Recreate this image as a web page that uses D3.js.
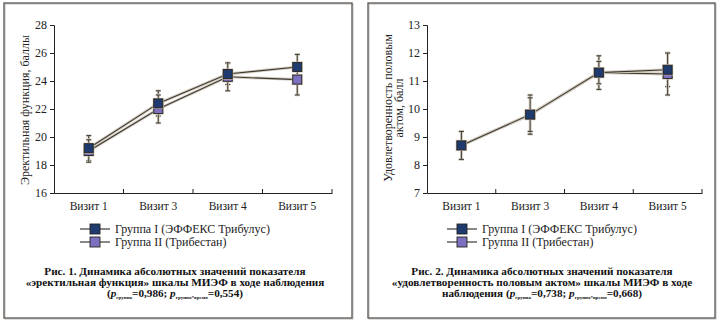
<!DOCTYPE html>
<html>
<head>
<meta charset="utf-8">
<script src="https://cdnjs.cloudflare.com/ajax/libs/d3/7.8.5/d3.min.js"></script>
<style>
  body { margin: 0; background: #fff; }
  svg { font-family: "Liberation Serif", "Times New Roman", serif; }
  .tick text { font-size: 12px; fill: #222; }
  .caption { font-size: 11.2px; font-weight: bold; fill: #111; }
</style>
</head>
<body>
<svg id="chart" width="720" height="321"></svg>
<script>
// data
const visits = ['Визит 1', 'Визит 3', 'Визит 4', 'Визит 5'];
const groupNames = ['Группа I (ЭФФЕКС Трибулус)', 'Группа II (Трибестан)'];

// Рис. 1 — эректильная функция
const erectI = [19.2, 22.4, 24.5, 25.0];
const erectIErr = [0.9, 0.9, 0.75, 0.9];
const erectII = [19.0, 22.0, 24.3, 24.1];
const erectIIErr = [0.8, 1.0, 1.0, 1.1];
const erectTicks = [16, 18, 20, 22, 24, 26, 28];

// Рис. 2 — удовлетворенность половым актом
const satisI = [8.7, 9.8, 11.3, 11.4];
const satisIErr = [0.5, 0.7, 0.6, 0.6];
const satisII = [8.7, 9.8, 11.3, 11.25];
const satisIIErr = [0.5, 0.6, 0.4, 0.75];
const satisTicks = [7, 8, 9, 10, 11, 12, 13];

const colors = ['#1e3a6e', '#7e70c0'];
const serif = '"Liberation Serif", "Times New Roman", serif';

let svg = d3.select('#chart');

function drawPanel(p) {
    let g = svg.append('g');

    // frame
    g.append('rect')
        .attr('x', p.box[0] + 1).attr('y', p.box[1] + 1)
        .attr('width', p.box[2] - p.box[0]).attr('height', p.box[3] - p.box[1])
        .attr('fill', 'none').attr('stroke', '#bbb').attr('stroke-width', 1);
    g.append('rect')
        .attr('x', p.box[0]).attr('y', p.box[1])
        .attr('width', p.box[2] - p.box[0]).attr('height', p.box[3] - p.box[1])
        .attr('fill', 'none').attr('stroke', '#5a5550').attr('stroke-width', 1.3);

    let x = d3.scaleBand().domain(visits).range([p.left, p.right]);
    let y = d3.scaleLinear().domain(p.domain).range([193, 25]);

    // y axis
    let yAxis = g.append('g')
        .attr('transform', `translate(${p.left},0)`)
        .call(d3.axisLeft(y).tickValues(p.ticks).tickFormat(d3.format('d')).tickSize(4).tickPadding(3));
    yAxis.attr('font-family', serif);
    yAxis.select('.domain').attr('stroke', '#222');
    yAxis.selectAll('.tick line').attr('stroke', '#222');

    // x axis, ticks point inward at band edges
    let xAxis = g.append('g')
        .attr('transform', `translate(0,193)`)
        .call(d3.axisBottom(x).tickSize(0).tickPadding(9));
    xAxis.attr('font-family', serif);
    xAxis.select('.domain').attr('stroke', '#222');
    xAxis.selectAll('.tick text').style('font-size', '11.5px');
    xAxis.selectAll('.edge')
        .data(visits)
        .enter().append('line')
        .attr('x1', d => x(d) + x.bandwidth()).attr('x2', d => x(d) + x.bandwidth())
        .attr('y1', 0).attr('y2', -4)
        .attr('stroke', '#222');

    // y label
    let lab = g.append('text')
        .attr('transform', `translate(${p.labelX},${p.labelY}) rotate(-90)`)
        .attr('text-anchor', 'middle')
        .style('font-size', '12px')
        .attr('fill', '#222');
    p.label.forEach((t, i) => {
        lab.append('tspan').attr('x', 0).attr('dy', i == 0 ? 0 : 11).text(t);
    });

    let series = [
        { vals: p.s1, err: p.e1, color: colors[0] },
        { vals: p.s2, err: p.e2, color: colors[1] }
    ];
    let cx = d => x(d) + x.bandwidth() / 2;
    let line = d3.line().x(d => cx(d.v)).y(d => y(d.y));

    // lines (group II underneath)
    series.slice().reverse().forEach(s => {
        let pts = visits.map((v, i) => ({ v: v, y: s.vals[i] }));
        g.append('path').datum(pts).attr('d', line)
            .attr('fill', 'none').attr('stroke', '#d6cfc2').attr('stroke-width', 3);
        g.append('path').datum(pts).attr('d', line)
            .attr('fill', 'none').attr('stroke', '#3c3832').attr('stroke-width', 1.1);
    });

    // error bars
    series.forEach(s => {
        visits.forEach((v, i) => {
            let hi = y(s.vals[i] + s.err[i]), lo = y(s.vals[i] - s.err[i]);
            let xx = cx(v);
            [['#d6cfc2', 2.6], ['#3c3832', 1]].forEach(st => {
                g.append('line').attr('x1', xx).attr('x2', xx).attr('y1', hi).attr('y2', lo)
                    .attr('stroke', st[0]).attr('stroke-width', st[1]);
                [hi, lo].forEach(yy => {
                    g.append('line').attr('x1', xx - 2.5).attr('x2', xx + 2.5)
                        .attr('y1', yy).attr('y2', yy)
                        .attr('stroke', st[0]).attr('stroke-width', st[1]);
                });
            });
        });
    });

    // markers
    series.slice().reverse().forEach(s => {
        visits.forEach((v, i) => {
            g.append('rect')
                .attr('x', cx(v) - 5.5).attr('y', y(s.vals[i]) - 5.5)
                .attr('width', 11).attr('height', 11)
                .attr('fill', '#c9c0b0');
            g.append('rect')
                .attr('x', cx(v) - 4.5).attr('y', y(s.vals[i]) - 4.5)
                .attr('width', 9).attr('height', 9)
                .attr('fill', s.color).attr('stroke', '#26241f').attr('stroke-width', 0.9);
        });
    });

    // legend
    groupNames.forEach((name, i) => {
        let ly = 229 + i * 13;
        g.append('line').attr('x1', p.legX).attr('x2', p.legX + 30)
            .attr('y1', ly).attr('y2', ly).attr('stroke', '#3c3832').attr('stroke-width', 1.2);
        g.append('rect').attr('x', p.legX + 10).attr('y', ly - 5)
            .attr('width', 10).attr('height', 10)
            .attr('fill', colors[i]).attr('stroke', '#26241f').attr('stroke-width', 0.9);
        g.append('text').attr('x', p.legX + 35).attr('y', ly + 4)
            .style('font-size', '12px').attr('fill', '#222').text(name);
    });

    // caption
    p.caption.forEach((ln, i) => {
        let t = g.append('text').attr('class', 'caption')
            .attr('x', p.capX).attr('y', 275 + i * 11)
            .attr('text-anchor', 'middle');
        ln.forEach(part => {
            let ts = t.append('tspan').text(part.t);
            if (part.it) ts.style('font-style', 'italic');
            if (part.sub) ts.style('font-size', '5px').attr('dy', 2);
            if (part.up) ts.attr('dy', -2);
        });
    });
}

drawPanel({
    box: [4, 3, 352, 318],
    left: 54, right: 332,
    domain: [16, 28], ticks: erectTicks,
    s1: erectI, e1: erectIErr, s2: erectII, e2: erectIIErr,
    label: ['Эректильная функция, баллы'], labelX: 29, labelY: 110,
    legX: 80, capX: 175,
    caption: [
        [{ t: 'Рис. 1. Динамика абсолютных значений показателя' }],
        [{ t: '«эректильная функция» шкалы МИЭФ в ходе наблюдения' }],
        [{ t: '(' }, { t: 'p', it: true }, { t: 'группа', sub: true }, { t: '=0,986; ', up: true },
         { t: 'p', it: true }, { t: 'группа*время', sub: true }, { t: '=0,554)', up: true }]
    ]
});

drawPanel({
    box: [368, 3, 715, 318],
    left: 427, right: 702,
    domain: [7, 13], ticks: satisTicks,
    s1: satisI, e1: satisIErr, s2: satisII, e2: satisIIErr,
    label: ['Удовлетворенность половым', 'актом, балл'], labelX: 392, labelY: 108,
    legX: 447, capX: 542,
    caption: [
        [{ t: 'Рис. 2. Динамика абсолютных значений показателя' }],
        [{ t: '«удовлетворенность половым актом» шкалы МИЭФ в ходе' }],
        [{ t: 'наблюдения (' }, { t: 'p', it: true }, { t: 'группа', sub: true }, { t: '=0,738; ', up: true },
         { t: 'p', it: true }, { t: 'группа*время', sub: true }, { t: '=0,668)', up: true }]
    ]
});
</script>
</body>
</html>
